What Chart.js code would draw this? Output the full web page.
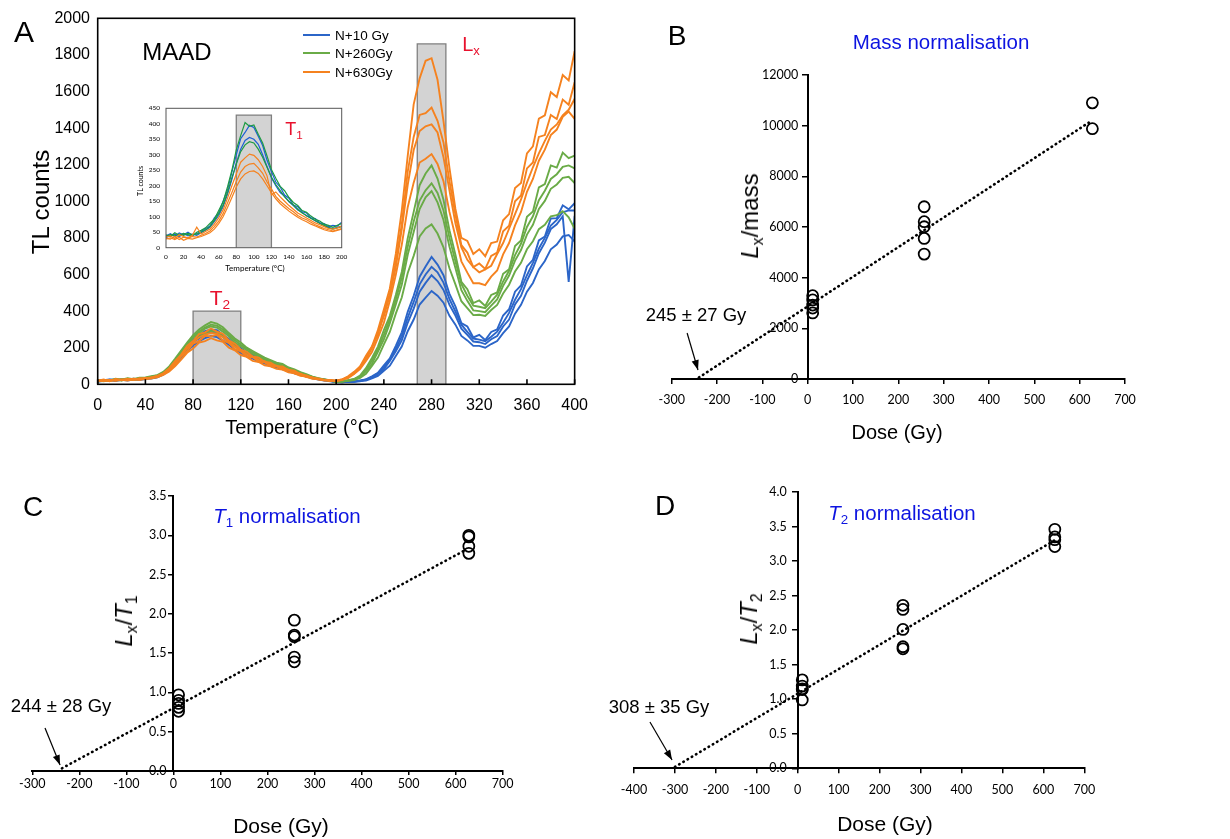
<!DOCTYPE html>
<html>
<head>
<meta charset="utf-8">
<script src="https://cdn.jsdelivr.net/npm/chart.js@4.4.1/dist/chart.umd.min.js"></script>
<style>
  body { margin: 0; background: #fff; }
  #fig { position: relative; width: 1230px; height: 839px; overflow: hidden; font-family: "Liberation Sans", Arial, sans-serif; color: #000; }
  #fig canvas { position: absolute; }
  .lbl { position: absolute; white-space: nowrap; transform: translate(-50%, -50%); line-height: 1; }
  .rot { transform: translate(-50%, -50%) rotate(-90deg); }
  .sub { font-size: 65%; position: relative; top: 0.32em; font-style: normal; }
  .red { color: #e8112d; }
  .blue { color: #0d14e0; }
  .leg { position: absolute; left: 303px; height: 16px; display: flex; align-items: center; font-size: 13.5px; }
  .leg i { display: inline-block; width: 27px; height: 2px; margin-right: 5px; }
</style>
</head>
<body>
<div id="fig">
  <canvas id="chartA" width="600" height="440" style="left:0;top:0"></canvas>
  <canvas id="chartInset" width="225" height="185" style="left:130px;top:95px"></canvas>
  <canvas id="chartB" width="530" height="440" style="left:620px;top:0"></canvas>
  <canvas id="chartC" width="530" height="399" style="left:0;top:440px"></canvas>
  <canvas id="chartD" width="520" height="399" style="left:600px;top:440px"></canvas>

  <!-- panel A -->
  <div class="lbl" style="left:24px;top:32px;font-size:30px">A</div>
  <div class="lbl" style="left:177px;top:52px;font-size:24px">MAAD</div>
  <div class="leg" style="top:27px"><i style="background:#2b65c8"></i>N+10 Gy</div>
  <div class="leg" style="top:45px"><i style="background:#6aab47"></i>N+260Gy</div>
  <div class="leg" style="top:64px"><i style="background:#f5821f"></i>N+630Gy</div>
  <div class="lbl rot" style="left:41px;top:202px;font-size:24px">TL counts</div>
  <div class="lbl" style="left:302px;top:427px;font-size:20px">Temperature (°C)</div>
  <div class="lbl red" style="left:220px;top:297px;font-size:21px">T<span class="sub">2</span></div>
  <div class="lbl red" style="left:471px;top:44px;font-size:20px">L<span class="sub">x</span></div>
  <div class="lbl red" style="left:294px;top:129px;font-size:18px">T<span class="sub">1</span></div>
  <div class="lbl rot" style="left:140px;top:181px;font-size:7px;font-family:Lato">TL counts</div>
  <div class="lbl" style="left:255px;top:268px;font-size:8px;font-family:Lato">Temperature (°C)</div>

  <!-- panel B -->
  <div class="lbl" style="left:677px;top:36px;font-size:28px">B</div>
  <div class="lbl blue" style="left:941px;top:42px;font-size:20.5px">Mass normalisation</div>
  <div class="lbl rot" style="left:750px;top:216px;font-size:24px"><i>L</i><span class="sub">x</span>/mass</div>
  <div class="lbl" style="left:897px;top:432px;font-size:20px">Dose (Gy)</div>
  <div class="lbl" style="left:696px;top:315px;font-size:18.5px">245 ± 27 Gy</div>

  <!-- panel C -->
  <div class="lbl" style="left:33px;top:507px;font-size:28px">C</div>
  <div class="lbl blue" style="left:287px;top:516px;font-size:20.5px"><i>T</i><span class="sub">1</span> normalisation</div>
  <div class="lbl rot" style="left:124px;top:621px;font-size:24px"><i>L</i><span class="sub">x</span>/<i>T</i><span class="sub">1</span></div>
  <div class="lbl" style="left:281px;top:825px;font-size:21px">Dose (Gy)</div>
  <div class="lbl" style="left:61px;top:706px;font-size:18.5px">244 ± 28 Gy</div>

  <!-- panel D -->
  <div class="lbl" style="left:665px;top:506px;font-size:28px">D</div>
  <div class="lbl blue" style="left:902px;top:513px;font-size:20.5px"><i>T</i><span class="sub">2</span> normalisation</div>
  <div class="lbl rot" style="left:749px;top:619px;font-size:24px"><i>L</i><span class="sub">x</span>/<i>T</i><span class="sub">2</span></div>
  <div class="lbl" style="left:885px;top:823px;font-size:21px">Dose (Gy)</div>
  <div class="lbl" style="left:659px;top:707px;font-size:18.5px">308 ± 35 Gy</div>
</div>

<script>
// ---- glow curves (panel A), read every 5 °C ----
const mainTemps = [
  0, 5, 10, 15, 20, 25, 30, 35, 40, 45, 50, 55, 60, 65, 70, 75, 80, 85, 90, 95,
  100, 105, 110, 115, 120, 125, 130, 135, 140, 145, 150, 155, 160, 165, 170, 175, 180, 185, 190, 195,
  200, 205, 210, 215, 220, 225, 230, 235, 240, 245, 250, 255, 260, 265, 270, 275, 280, 285, 290, 295,
  300, 305, 310, 315, 320, 325, 330, 335, 340, 345, 350, 355, 360, 365, 370, 375, 380, 385, 390, 395,
  400
];

const orange1 = [
  20, 26, 17, 29, 22, 31, 24, 33, 30, 38, 46, 60, 88, 128, 162, 210, 236, 275, 284, 305,
  288, 276, 240, 222, 190, 178, 152, 146, 122, 118, 98, 97, 78, 74, 55, 49, 35, 32, 22, 24,
  21, 27, 44, 68, 98, 156, 206, 296, 408, 524, 712, 948, 1248, 1530, 1672, 1768, 1782, 1664, 1438, 1182,
  958, 800, 784, 712, 738, 700, 772, 780, 896, 930, 1072, 1100, 1262, 1300, 1452, 1470, 1596, 1570, 1690, 1660,
  1820
];
const orange2 = [
  16, 21, 24, 20, 27, 23, 29, 25, 33, 31, 42, 55, 78, 108, 152, 180, 222, 236, 265, 262,
  270, 240, 226, 192, 180, 152, 148, 124, 120, 100, 98, 82, 78, 60, 55, 40, 36, 26, 25, 18,
  19, 24, 40, 58, 95, 136, 206, 270, 388, 494, 668, 872, 1162, 1352, 1472, 1482, 1512, 1440, 1322, 1110,
  928, 760, 720, 640, 660, 630, 702, 720, 836, 866, 1000, 1032, 1180, 1212, 1352, 1362, 1472, 1450, 1556, 1528,
  1650
];
const orange3 = [
  22, 18, 23, 19, 25, 21, 27, 24, 29, 34, 38, 52, 70, 100, 135, 172, 195, 228, 236, 252,
  240, 232, 200, 186, 160, 150, 128, 122, 104, 98, 84, 80, 66, 60, 46, 42, 30, 28, 20, 21,
  17, 25, 34, 57, 83, 128, 176, 254, 336, 456, 598, 762, 968, 1102, 1212, 1232, 1258, 1204, 1110, 942,
  808, 672, 610, 552, 552, 542, 588, 622, 710, 772, 868, 942, 1052, 1122, 1222, 1282, 1362, 1392, 1462, 1490,
  1450
];
const orange4 = [
  19, 23, 18, 26, 24, 27, 31, 28, 35, 37, 44, 58, 84, 118, 158, 196, 230, 256, 272, 280,
  276, 258, 232, 206, 186, 164, 150, 132, 126, 108, 102, 88, 80, 66, 58, 44, 38, 28, 24, 20,
  20, 26, 38, 62, 90, 142, 196, 282, 372, 486, 640, 846, 1090, 1280, 1384, 1410, 1420, 1376, 1240, 1060,
  880, 748, 680, 640, 612, 628, 648, 712, 772, 850, 930, 1010, 1102, 1186, 1262, 1330, 1392, 1420, 1470, 1500,
  1560
];
const green1 = [
  18, 24, 21, 30, 25, 33, 28, 36, 38, 44, 50, 68, 98, 140, 185, 228, 268, 300, 322, 340,
  332, 312, 280, 250, 228, 200, 182, 164, 146, 132, 118, 112, 92, 82, 66, 56, 42, 34, 27, 22,
  16, 17, 23, 29, 47, 88, 144, 206, 296, 374, 488, 614, 798, 942, 1088, 1152, 1196, 1124, 1008, 842,
  708, 560, 520, 444, 458, 428, 488, 502, 604, 628, 756, 786, 916, 944, 1076, 1094, 1196, 1184, 1266, 1236,
  1250
];
const green2 = [
  15, 20, 24, 22, 28, 24, 31, 28, 34, 38, 46, 62, 92, 128, 176, 212, 255, 278, 305, 316,
  310, 288, 262, 228, 208, 186, 166, 152, 134, 122, 110, 98, 88, 72, 62, 48, 40, 30, 26, 20,
  13, 17, 19, 27, 37, 72, 112, 178, 246, 334, 436, 544, 708, 832, 958, 1022, 1056, 994, 898, 752,
  636, 514, 456, 404, 400, 394, 430, 464, 538, 594, 676, 734, 818, 872, 958, 1002, 1068, 1092, 1128, 1134,
  1100
];
const green3 = [
  19, 17, 22, 25, 21, 27, 25, 29, 32, 36, 42, 56, 84, 118, 160, 196, 232, 262, 278, 292,
  286, 262, 240, 210, 190, 172, 152, 140, 124, 112, 100, 92, 80, 68, 56, 46, 36, 29, 24, 19,
  15, 14, 19, 23, 35, 58, 101, 146, 218, 286, 386, 474, 608, 702, 808, 852, 874, 824, 748, 634,
  546, 454, 416, 378, 380, 374, 406, 434, 496, 544, 616, 664, 738, 782, 848, 872, 918, 924, 946, 912,
  850
];
const green4 = [
  17, 22, 19, 26, 23, 30, 26, 33, 35, 41, 48, 64, 94, 132, 178, 218, 258, 288, 310, 326,
  320, 300, 270, 240, 216, 194, 174, 158, 140, 128, 114, 104, 90, 76, 64, 52, 40, 32, 26, 21,
  14, 16, 21, 28, 42, 80, 128, 192, 270, 356, 462, 584, 752, 890, 1004, 1060, 1098, 1046, 950, 800,
  672, 548, 484, 430, 424, 416, 452, 490, 562, 620, 706, 768, 860, 918, 1006, 1058, 1122, 1148, 1188, 1196,
  1180
];
const blue1 = [
  17, 22, 26, 21, 28, 25, 30, 27, 33, 36, 44, 62, 86, 122, 166, 204, 242, 266, 290, 298,
  296, 270, 248, 216, 198, 174, 160, 140, 130, 114, 106, 92, 84, 68, 60, 46, 38, 28, 26, 18,
  13, 11, 15, 15, 21, 27, 44, 63, 104, 142, 210, 284, 396, 484, 588, 644, 696, 654, 596, 494,
  426, 334, 316, 256, 270, 242, 286, 300, 376, 410, 506, 540, 644, 680, 786, 808, 906, 908, 978, 956,
  990
];
const blue2 = [
  21, 18, 24, 27, 22, 29, 25, 31, 30, 35, 40, 58, 82, 114, 158, 192, 232, 250, 276, 284,
  278, 260, 230, 210, 184, 168, 148, 138, 120, 110, 98, 90, 76, 66, 54, 45, 34, 30, 22, 20,
  11, 13, 12, 16, 17, 26, 35, 57, 83, 128, 180, 240, 336, 414, 506, 554, 596, 564, 516, 434,
  376, 304, 270, 234, 230, 220, 246, 264, 316, 354, 436, 484, 566, 634, 716, 774, 848, 874, 918, 560,
  920
];
const blue3 = [
  14, 19, 22, 18, 24, 21, 26, 23, 28, 32, 38, 52, 76, 106, 146, 180, 212, 236, 252, 264,
  258, 240, 216, 190, 172, 154, 140, 124, 114, 100, 92, 82, 72, 60, 50, 42, 32, 26, 21, 17,
  12, 11, 14, 13, 18, 21, 33, 46, 74, 102, 154, 206, 290, 354, 436, 474, 510, 484, 446, 374,
  326, 264, 240, 210, 210, 200, 220, 236, 280, 316, 386, 434, 506, 554, 628, 674, 738, 764, 808, 816,
  780
];
const blue4 = [
  19, 20, 25, 24, 25, 27, 28, 29, 31, 36, 42, 60, 84, 118, 162, 198, 236, 258, 282, 290,
  286, 266, 238, 212, 190, 170, 154, 138, 124, 112, 102, 90, 80, 66, 56, 46, 36, 29, 24, 19,
  12, 12, 14, 15, 19, 26, 40, 60, 94, 136, 194, 262, 364, 450, 546, 600, 642, 612, 556, 466,
  398, 326, 286, 250, 244, 236, 260, 288, 336, 390, 462, 520, 596, 664, 742, 800, 868, 898, 940, 950,
  950
];

// integration windows
const t2Window = [80, 120];
const t2Top = 400;
const lxWindow = [268, 292];
const lxTop = 1860;

// ---- inset (T1 region), every 5 °C ----
const insetTemps = [
  0, 5, 10, 15, 20, 25, 30, 35, 40, 45, 50, 55, 60, 65, 70, 75, 80, 85, 90, 95,
  100, 105, 110, 115, 120, 125, 130, 135, 140, 145, 150, 155, 160, 165, 170, 175, 180, 185, 190, 195,
  200
];
const insetBlue1 = [
  38, 45, 36, 48, 42, 50, 40, 46, 52, 62, 70, 96, 112, 150, 186, 244, 300, 352, 372, 395,
  388, 360, 330, 282, 246, 212, 196, 170, 160, 138, 132, 116, 112, 96, 94, 80, 78, 68, 72, 70, 82
];
const insetBlue2 = [
  32, 40, 44, 35, 46, 38, 44, 40, 48, 56, 66, 84, 104, 132, 172, 220, 272, 318, 346, 356,
  350, 334, 300, 262, 226, 200, 178, 166, 148, 136, 122, 114, 102, 96, 86, 80, 72, 66, 62, 66, 70
];
const insetGreen1 = [
  42, 36, 48, 40, 46, 42, 38, 50, 56, 64, 78, 92, 120, 148, 196, 250, 316, 362, 404, 392,
  396, 366, 338, 296, 252, 224, 198, 184, 162, 146, 136, 120, 114, 102, 92, 86, 76, 72, 66, 72, 78
];
const insetGreen2 = [
  36, 42, 38, 44, 40, 46, 42, 44, 50, 58, 68, 88, 110, 138, 178, 226, 270, 310, 332, 342,
  338, 318, 292, 260, 228, 204, 184, 164, 150, 138, 124, 112, 104, 94, 88, 78, 72, 64, 60, 64, 68
];
const insetOrange1 = [
  34, 38, 30, 42, 36, 32, 40, 66, 44, 52, 60, 76, 96, 122, 160, 200, 238, 276, 290, 302,
  298, 284, 262, 232, 170, 180, 164, 150, 136, 124, 112, 104, 96, 88, 80, 74, 68, 62, 60, 64, 70
];
const insetOrange2 = [
  30, 28, 36, 26, 34, 30, 36, 34, 40, 46, 54, 68, 86, 110, 144, 178, 214, 244, 262, 270,
  272, 258, 240, 212, 190, 166, 150, 138, 126, 116, 104, 96, 90, 82, 74, 68, 62, 58, 54, 58, 62
];
const insetOrange3 = [
  28, 32, 26, 34, 24, 30, 28, 32, 36, 42, 48, 60, 78, 100, 130, 162, 196, 222, 238, 246,
  248, 240, 222, 200, 178, 158, 142, 130, 118, 108, 98, 90, 84, 76, 70, 64, 58, 54, 52, 56, 60
];
const t1Window = [80, 120];
const t1Top = 428;

// ---- dose response (panels B-D) ----
const doses = [11, 257, 628];
const massLow = [3290, 3120, 2920, 2800, 2610];
const massMid = [6800, 6210, 6010, 5550, 4930];
const massHigh = [10900, 9880];
const massFit = [[-240, 60], [620, 10120]];
const massArrow = [[-266, 1816], [-242, 355]];

const t1Low = [0.97, 0.90, 0.86, 0.81, 0.76];
const t1Mid = [1.92, 1.73, 1.71, 1.45, 1.39];
const t1High = [3.00, 2.98, 2.86, 2.77];
const t1Fit = [[-237, 0.034], [620, 2.81]];
const t1Arrow = [[-273, 0.547], [-241, 0.076]];

const t2Low = [1.28, 1.19, 1.15, 1.14, 0.99];
const t2Mid = [2.36, 2.30, 2.01, 1.76, 1.73];
const t2High = [3.46, 3.35, 3.31, 3.21];
const t2Fit = [[-300, 0.02], [628, 3.305]];
const t2Arrow = [[-361, 0.67], [-307, 0.12]];

const colours = { blue: "#2b65c8", green: "#6aab47", orange: "#f5821f",
                  insetBlue: "#1d5fd6", insetGreen: "#1f9b43" };

Chart.defaults.font.family = "'Liberation Sans', Arial, sans-serif";
Chart.defaults.color = "#000";
Chart.defaults.animation = false;
Chart.defaults.events = [];
Chart.defaults.plugins.legend.display = false;
Chart.defaults.plugins.tooltip.enabled = false;

function series(xs, ys) {
    return xs.map((x, i) => ({ x, y: ys[i] }));
}

function curve(xs, ys, colour, order, width) {
    return { data: series(xs, ys), showLine: true, borderColor: colour, borderWidth: width,
             pointRadius: 0, tension: 0, order };
}

function band(range, top) {
    return {
        data: [{ x: range[0], y: 0 }, { x: range[0], y: top }, { x: range[1], y: top }, { x: range[1], y: 0 }],
        showLine: true, fill: "origin", backgroundColor: "#d3d3d3", borderColor: "#7f7f7f",
        borderWidth: 1.3, pointRadius: 0, tension: 0, order: 10,
    };
}

// box round the plot area, with short inward ticks on the bottom axis
const framePlugin = {
    id: "frame",
    afterDatasetsDraw(chart, args, opts) {
        const { ctx, chartArea: a } = chart;
        ctx.save();
        ctx.strokeStyle = opts.colour || "#000";
        ctx.lineWidth = opts.width;
        ctx.strokeRect(a.left, a.top, a.right - a.left, a.bottom - a.top);
        if (opts.tick) {
            const sx = chart.scales.x;
            ctx.beginPath();
            sx.ticks.forEach((t) => {
                const px = sx.getPixelForValue(t.value);
                ctx.moveTo(px, a.bottom);
                ctx.lineTo(px, a.bottom - opts.tick);
            });
            ctx.stroke();
        }
        ctx.restore();
    },
};

// filled head at the end of datasets flagged arrowHead
const arrowPlugin = {
    id: "arrowHead",
    afterDatasetsDraw(chart) {
        const ctx = chart.ctx;
        chart.data.datasets.forEach((ds, i) => {
            if (!ds.arrowHead) return;
            const pts = chart.getDatasetMeta(i).data;
            const a = pts[pts.length - 2];
            const b = pts[pts.length - 1];
            const ang = Math.atan2(b.y - a.y, b.x - a.x);
            const len = 10, half = 3.6;
            const c = Math.cos(ang), s = Math.sin(ang);
            ctx.save();
            ctx.fillStyle = "#000";
            ctx.beginPath();
            ctx.moveTo(b.x, b.y);
            ctx.lineTo(b.x - len * c + half * s, b.y - len * s - half * c);
            ctx.lineTo(b.x - len * c - half * s, b.y - len * s + half * c);
            ctx.closePath();
            ctx.fill();
            ctx.restore();
        });
    },
};

const noGrid = { display: false, drawTicks: false, tickLength: 0 };

function initGlowChart() {
    const lw = 1.9;
    new Chart(document.getElementById("chartA"), {
        type: "scatter",
        data: {
            datasets: [
                band(t2Window, t2Top),
                band(lxWindow, lxTop),
                ...[blue1, blue2, blue3, blue4].map((c) => curve(mainTemps, c, colours.blue, 3, lw)),
                ...[green1, green2, green3, green4].map((c) => curve(mainTemps, c, colours.green, 2, lw)),
                ...[orange1, orange2, orange3, orange4].map((c) => curve(mainTemps, c, colours.orange, 1, lw)),
            ],
        },
        options: {
            responsive: false,
            devicePixelRatio: 1,
            layout: { padding: { left: 0, right: 22.3, top: 18.3, bottom: 15.7 } },
            scales: {
                x: {
                    type: "linear", min: 0, max: 400,
                    afterFit(scale) { scale.height = 40; },
                    grid: noGrid, border: { display: false },
                    ticks: { stepSize: 40, padding: 12, maxRotation: 0, autoSkip: false,
                             font: { size: 16 }, callback: (v) => String(v) },
                },
                y: {
                    min: 0, max: 2000,
                    afterFit(scale) { scale.width = 97.7; },
                    grid: noGrid, border: { display: false },
                    ticks: { stepSize: 200, padding: 7.7, font: { size: 16 }, callback: (v) => String(v) },
                },
            },
            plugins: { frame: { width: 1.6, tick: 5 } },
        },
        plugins: [framePlugin],
    });
}

function initInsetChart() {
    const lw = 1.2;
    new Chart(document.getElementById("chartInset"), {
        type: "scatter",
        data: {
            datasets: [
                band(t1Window, t1Top),
                ...[insetBlue1, insetBlue2].map((c) => curve(insetTemps, c, colours.insetBlue, 3, lw)),
                ...[insetGreen1, insetGreen2].map((c) => curve(insetTemps, c, colours.insetGreen, 2, lw)),
                ...[insetOrange1, insetOrange2, insetOrange3].map((c) => curve(insetTemps, c, colours.orange, 1, lw)),
            ],
        },
        options: {
            responsive: false,
            devicePixelRatio: 1,
            layout: { padding: { left: 0, right: 13.3, top: 13.3, bottom: 10.3 } },
            scales: {
                x: {
                    type: "linear", min: 0, max: 200,
                    afterFit(scale) { scale.height = 22; },
                    grid: noGrid, border: { display: false },
                    ticks: { stepSize: 20, padding: 5.4, maxRotation: 0, autoSkip: false,
                             font: { size: 6.5, family: "Lato" }, callback: (v) => String(v) },
                },
                y: {
                    min: 0, max: 450,
                    afterFit(scale) { scale.width = 36; },
                    grid: noGrid, border: { display: false },
                    ticks: { stepSize: 50, padding: 6, font: { size: 6.5, family: "Lato" },
                             callback: (v) => String(v) },
                },
            },
            plugins: { frame: { width: 1, colour: "#555" } },
        },
        plugins: [framePlugin],
    });
}

function initDoseChart(id, cfg) {
    const axisGrid = { display: true, drawOnChartArea: false, drawTicks: true,
                       tickLength: cfg.tickLength, color: "#000", lineWidth: 1.5 };
    const axisBorder = { display: true, color: "#000", width: 2 };
    const tickFont = { size: 12.5, family: "Lato" };
    const points = [
        ...cfg.low.map((v) => ({ x: doses[0], y: v })),
        ...cfg.mid.map((v) => ({ x: doses[1], y: v })),
        ...cfg.high.map((v) => ({ x: doses[2], y: v })),
    ];

    new Chart(document.getElementById(id), {
        type: "scatter",
        data: {
            datasets: [
                {
                    data: points, pointRadius: 5.5, pointBorderWidth: 1.8, pointStyle: "circle",
                    borderColor: "#000", backgroundColor: "rgba(0,0,0,0)", order: 1,
                },
                {
                    data: cfg.fit.map(([x, y]) => ({ x, y })), showLine: true, pointRadius: 0,
                    borderColor: "#000", borderWidth: 2.6, borderDash: [0.5, 4.4], borderCapStyle: "round",
                    order: 2,
                },
                {
                    data: cfg.arrow.map(([x, y]) => ({ x, y })), showLine: true, pointRadius: 0,
                    borderColor: "#000", borderWidth: 1.2, arrowHead: true, order: 3,
                },
            ],
        },
        options: {
            responsive: false,
            devicePixelRatio: 1,
            layout: { padding: cfg.padding },
            scales: {
                x: {
                    type: "linear", min: cfg.xMin, max: 700,
                    afterFit(scale) { scale.height = cfg.xHeight; },
                    grid: axisGrid, border: axisBorder,
                    ticks: { stepSize: 100, padding: cfg.xPad, maxRotation: 0, autoSkip: false, font: tickFont },
                },
                y: {
                    // y axis crosses at dose 0; labels sit right-aligned on it, so the gap is a trailing space
                    position: { x: 0 }, min: 0, max: cfg.yMax,
                    grid: axisGrid, border: axisBorder,
                    ticks: {
                        stepSize: cfg.yStep, font: tickFont,
                        callback: (v) => (cfg.decimals ? v.toFixed(cfg.decimals) : String(v)) + cfg.yGap,
                    },
                },
            },
        },
        plugins: [arrowPlugin],
    });
}

initGlowChart();
initInsetChart();

initDoseChart("chartB", {
    low: massLow, mid: massMid, high: massHigh, fit: massFit, arrow: massArrow,
    xMin: -300, yMax: 12000, yStep: 2000, decimals: 0,
    padding: { left: 51.7, right: 25, top: 75, bottom: 25 }, xHeight: 36,
    tickLength: 5, xPad: 8.5, yGap: "\u2003",
});
initDoseChart("chartC", {
    low: t1Low, mid: t1Mid, high: t1High, fit: t1Fit, arrow: t1Arrow,
    xMin: -300, yMax: 3.5, yStep: 0.5, decimals: 1,
    padding: { left: 32.3, right: 27.3, top: 56, bottom: 38 }, xHeight: 30,
    tickLength: 4, xPad: 1, yGap: "\u2002\u200A",
});
initDoseChart("chartD", {
    low: t2Low, mid: t2Mid, high: t2High, fit: t2Fit, arrow: t2Arrow,
    xMin: -400, yMax: 4.0, yStep: 0.5, decimals: 1,
    padding: { left: 34, right: 35.7, top: 52, bottom: 38.7 }, xHeight: 32,
    tickLength: 5, xPad: 9.2, yGap: "\u2003\u2009",
});
</script>
</body>
</html>
